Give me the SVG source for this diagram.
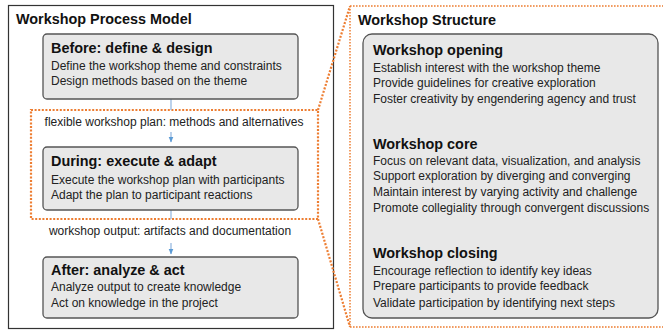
<svg xmlns="http://www.w3.org/2000/svg" width="663" height="330" viewBox="0 0 663 330">
<defs>
<marker id="arr" viewBox="0 0 6 6" refX="5.5" refY="3" markerWidth="6" markerHeight="6" markerUnits="userSpaceOnUse" orient="auto">
<path d="M0,0.5 L6,3 L0,5.5 Z" fill="#5b9bd5"/>
</marker>
</defs>
<style>
text{font-family:"Liberation Sans",Arial,sans-serif;fill:#111}
.h{font-size:14.4px;font-weight:bold}
.b{font-size:12px;fill:#222}
.box{fill:#e8e8e8;stroke:#555;stroke-width:1.3}
.conn{stroke:#8fb4de;stroke-width:1.2;fill:none}
.dot{stroke:#ed7d31;stroke-width:2.2;fill:none;stroke-dasharray:2 1.6}
.dot2{stroke:#ed7d31;stroke-width:1.5;fill:none;stroke-dasharray:1.6 1.4}
</style>
<rect x="8.5" y="5.5" width="325" height="323" fill="#fff" stroke="#333" stroke-width="1.2"/>
<text class="h" x="16" y="24">Workshop Process Model</text>

<g id="highlight">
<rect class="dot" x="31" y="110" width="287" height="109"/>
<path class="dot" d="M318,110 L350,6 M318,219 L350,327"/>
<path class="dot2" d="M350,6 H663 M350,6 V327 H663"/>
</g>

<g id="connectors">
<path class="conn" d="M171,99 V110 M171,132 V142" marker-end="url(#arr)"/>
<path class="conn" d="M171,210 V219 M171,243 V254" marker-end="url(#arr)"/>
<text class="b" x="174" y="126" text-anchor="middle">flexible workshop plan: methods and alternatives</text>
<text class="b" x="170" y="235" text-anchor="middle">workshop output: artifacts and documentation</text>
</g>

<g id="before">
<rect class="box" x="43" y="34" width="255" height="65" rx="4"/>
<text class="h" x="51" y="53">Before: define &amp; design</text>
<text class="b" x="51" y="70">Define the workshop theme and constraints</text>
<text class="b" x="51" y="85">Design methods based on the theme</text>
</g>

<g id="during">
<rect class="box" x="43" y="147" width="255" height="63" rx="4"/>
<text class="h" x="51" y="166">During: execute &amp; adapt</text>
<text class="b" x="51" y="184">Execute the workshop plan with participants</text>
<text class="b" x="51" y="199">Adapt the plan to participant reactions</text>
</g>

<g id="after">
<rect class="box" x="43" y="257" width="255" height="61" rx="4"/>
<text class="h" x="51" y="275">After: analyze &amp; act</text>
<text class="b" x="51" y="291">Analyze output to create knowledge</text>
<text class="b" x="51" y="307">Act on knowledge in the project</text>
</g>

<text class="h" x="358" y="25">Workshop Structure</text>

<g id="structure">
<rect class="box" x="363" y="34" width="295" height="284" rx="9"/>
<text class="h" x="373" y="55">Workshop opening</text>
<text class="b" x="373" y="72">Establish interest with the workshop theme</text>
<text class="b" x="373" y="87">Provide guidelines for creative exploration</text>
<text class="b" x="373" y="103">Foster creativity by engendering agency and trust</text>
<text class="h" x="373" y="149">Workshop core</text>
<text class="b" x="373" y="165">Focus on relevant data, visualization, and analysis</text>
<text class="b" x="373" y="180">Support exploration by diverging and converging</text>
<text class="b" x="373" y="196">Maintain interest by varying activity and challenge</text>
<text class="b" x="373" y="212">Promote collegiality through convergent discussions</text>
<text class="h" x="373" y="258">Workshop closing</text>
<text class="b" x="373" y="275">Encourage reflection to identify key ideas</text>
<text class="b" x="373" y="290">Prepare participants to provide feedback</text>
<text class="b" x="373" y="307">Validate participation by identifying next steps</text>
</g>
</svg>
